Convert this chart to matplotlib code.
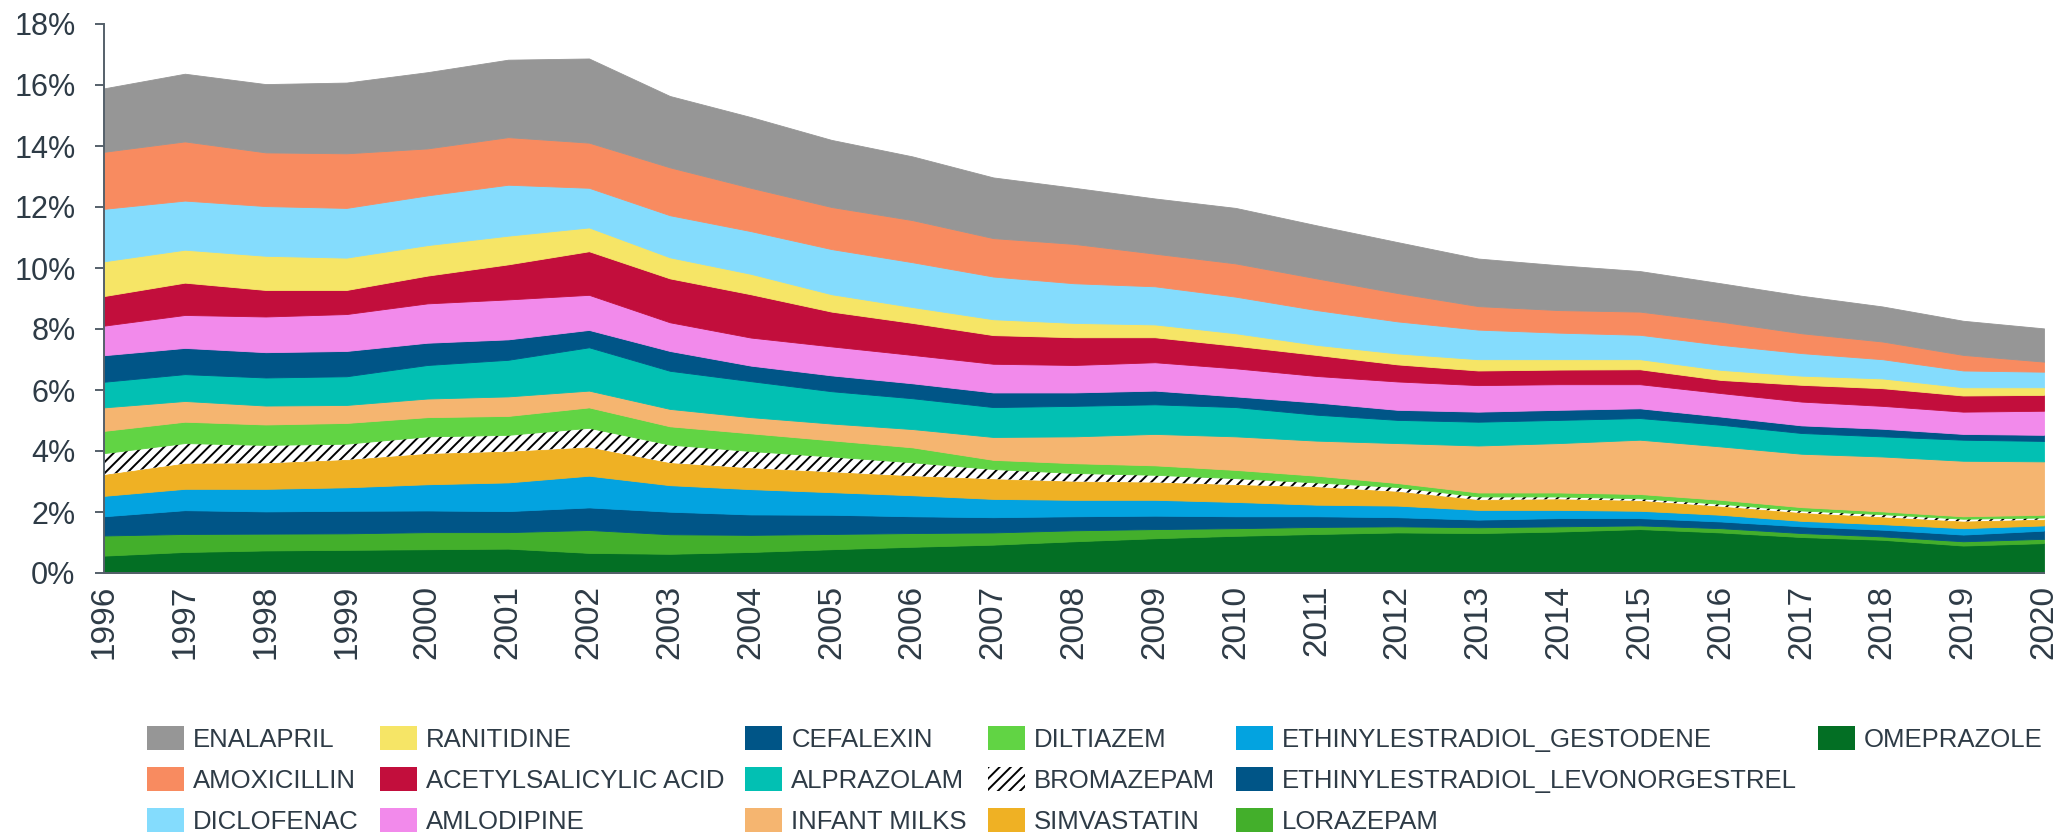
import numpy as np
import matplotlib
matplotlib.use('Agg')
import matplotlib.pyplot as plt
from matplotlib.patches import Patch

# ---------------- data (share of total, %) ----------------
years = list(range(1996, 2021))

omeprazole = [0.57, 0.69, 0.74, 0.76, 0.78, 0.80, 0.66, 0.63, 0.69, 0.78, 0.86, 0.93, 1.04,
              1.14, 1.22, 1.28, 1.33, 1.31, 1.36, 1.44, 1.33, 1.18, 1.09, 0.90, 0.98]
lorazepam = [0.66, 0.59, 0.55, 0.54, 0.56, 0.54, 0.75, 0.64, 0.56, 0.50, 0.45, 0.40, 0.36,
             0.30, 0.25, 0.23, 0.20, 0.19, 0.17, 0.12, 0.14, 0.13, 0.11, 0.14, 0.14]
ethinyl_levonorgestrel = [0.63, 0.78, 0.73, 0.74, 0.71, 0.69, 0.74, 0.74, 0.67, 0.63, 0.55, 0.50, 0.46,
                          0.44, 0.39, 0.35, 0.30, 0.25, 0.27, 0.24, 0.22, 0.22, 0.22, 0.22, 0.27]
ethinyl_gestodene = [0.67, 0.70, 0.74, 0.77, 0.86, 0.94, 1.04, 0.87, 0.83, 0.74, 0.69, 0.60, 0.54,
                     0.52, 0.47, 0.38, 0.38, 0.32, 0.27, 0.24, 0.22, 0.18, 0.18, 0.21, 0.17]
simvastatin = [0.69, 0.83, 0.84, 0.90, 1.00, 1.01, 0.93, 0.73, 0.69, 0.66, 0.63, 0.65, 0.60,
               0.57, 0.56, 0.58, 0.46, 0.33, 0.35, 0.33, 0.27, 0.26, 0.23, 0.22, 0.19]
bromazepam = [0.71, 0.67, 0.60, 0.53, 0.57, 0.55, 0.64, 0.60, 0.56, 0.51, 0.45, 0.33, 0.28,
              0.25, 0.22, 0.15, 0.15, 0.11, 0.09, 0.08, 0.09, 0.08, 0.10, 0.09, 0.07]
diltiazem = [0.73, 0.70, 0.67, 0.68, 0.63, 0.62, 0.67, 0.60, 0.58, 0.53, 0.49, 0.30, 0.32,
             0.31, 0.27, 0.22, 0.13, 0.13, 0.13, 0.14, 0.13, 0.11, 0.09, 0.08, 0.09]
infant_milks = [0.77, 0.68, 0.62, 0.59, 0.61, 0.64, 0.55, 0.57, 0.53, 0.55, 0.60, 0.75, 0.88,
                1.03, 1.10, 1.15, 1.31, 1.54, 1.62, 1.78, 1.75, 1.75, 1.80, 1.82, 1.75]
alprazolam = [0.84, 0.88, 0.92, 0.94, 1.10, 1.20, 1.42, 1.25, 1.18, 1.06, 1.01, 0.98, 1.00,
              0.97, 0.96, 0.85, 0.76, 0.78, 0.76, 0.71, 0.71, 0.68, 0.66, 0.69, 0.67]
cefalexin = [0.87, 0.86, 0.83, 0.83, 0.73, 0.67, 0.57, 0.65, 0.51, 0.52, 0.49, 0.48, 0.44,
             0.45, 0.35, 0.40, 0.33, 0.33, 0.33, 0.32, 0.27, 0.25, 0.25, 0.19, 0.20]
amlodipine = [0.97, 1.08, 1.17, 1.21, 1.29, 1.31, 1.15, 0.94, 0.92, 0.95, 0.93, 0.94, 0.90,
              0.93, 0.92, 0.87, 0.93, 0.87, 0.84, 0.79, 0.77, 0.78, 0.75, 0.73, 0.79]
acetylsalicylic_acid = [0.97, 1.06, 0.87, 0.79, 0.91, 1.15, 1.43, 1.44, 1.42, 1.14, 1.05, 0.94, 0.91,
                        0.82, 0.74, 0.69, 0.56, 0.48, 0.48, 0.49, 0.43, 0.55, 0.58, 0.53, 0.52]
ranitidine = [1.14, 1.08, 1.12, 1.06, 1.00, 0.94, 0.78, 0.69, 0.67, 0.57, 0.52, 0.52, 0.47,
              0.42, 0.41, 0.33, 0.36, 0.37, 0.34, 0.33, 0.33, 0.30, 0.32, 0.27, 0.25]
diclofenac = [1.72, 1.61, 1.63, 1.63, 1.63, 1.67, 1.30, 1.38, 1.40, 1.48, 1.47, 1.40, 1.30,
              1.25, 1.20, 1.14, 1.05, 0.97, 0.87, 0.80, 0.82, 0.74, 0.63, 0.55, 0.51]
amoxicillin = [1.87, 1.94, 1.76, 1.79, 1.54, 1.56, 1.48, 1.57, 1.42, 1.38, 1.38, 1.26, 1.29,
               1.07, 1.09, 1.04, 0.93, 0.77, 0.74, 0.76, 0.76, 0.65, 0.58, 0.51, 0.33]
enalapril = [2.08, 2.22, 2.24, 2.32, 2.50, 2.54, 2.76, 2.34, 2.32, 2.20, 2.09, 1.99, 1.84,
             1.81, 1.82, 1.74, 1.67, 1.56, 1.47, 1.33, 1.26, 1.23, 1.15, 1.12, 1.09]

# stacking order, bottom to top
series_names = ["OMEPRAZOLE", "LORAZEPAM", "ETHINYLESTRADIOL_LEVONORGESTREL",
                "ETHINYLESTRADIOL_GESTODENE", "SIMVASTATIN", "BROMAZEPAM", "DILTIAZEM",
                "INFANT MILKS", "ALPRAZOLAM", "CEFALEXIN", "AMLODIPINE",
                "ACETYLSALICYLIC ACID", "RANITIDINE", "DICLOFENAC", "AMOXICILLIN", "ENALAPRIL"]
series_values = [omeprazole, lorazepam, ethinyl_levonorgestrel, ethinyl_gestodene, simvastatin,
                 bromazepam, diltiazem, infant_milks, alprazolam, cefalexin, amlodipine,
                 acetylsalicylic_acid, ranitidine, diclofenac, amoxicillin, enalapril]
series_colors = ["#036f24", "#43af2b", "#005587", "#03a3e0", "#efb124", "#ffffff", "#61d444",
                 "#f5b570", "#02c0b3", "#005587", "#f28aeb", "#c20e3c", "#f6e566", "#84dcfd",
                 "#f88b60", "#969696"]
series_hatch = [None, None, None, None, None, "///", None, None, None, None, None, None, None,
                None, None, None]

y_ticks = list(range(0, 19, 2))
y_tick_labels = [f"{v}%" for v in y_ticks]

# ---------------- style ----------------
TXT = "#2e3b46"
SPINE = "#55606a"
plt.rcParams['font.family'] = ['Liberation Sans', 'DejaVu Sans']
plt.rcParams['hatch.linewidth'] = 1.4
plt.rcParams['hatch.color'] = 'black'

W, H = 2061, 835
fig = plt.figure(figsize=(W / 100, H / 100), dpi=100)
ax = fig.add_axes([104 / W, (H - 573) / H, (2044 - 104) / W, (573 - 24) / H])

x = np.array(years, dtype=float)
base = np.zeros(len(years))
for name, vals, col, h in zip(series_names, series_values, series_colors, series_hatch):
    top = base + np.array(vals, dtype=float)
    if h:
        ax.fill_between(x, base, top, facecolor='white', edgecolor='black', hatch=h,
                        linewidth=0)
    else:
        ax.fill_between(x, base, top, facecolor=col, edgecolor=col, linewidth=0.6)
    base = top

ax.set_xlim(years[0], years[-1])
ax.set_ylim(0, 18)
ax.set_yticks(y_ticks)
ax.set_yticklabels(y_tick_labels)
ax.set_xticks(years)
ax.set_xticklabels([str(y) for y in years], rotation=90)

for s in ['top', 'right']:
    ax.spines[s].set_visible(False)
for s in ['left', 'bottom']:
    ax.spines[s].set_color(SPINE)
    ax.spines[s].set_linewidth(1.4)

ax.tick_params(axis='y', length=6.5, width=1.4, color=SPINE, pad=14, labelsize=22,
               labelcolor=TXT)
ax.tick_params(axis='x', length=0, pad=8.6, labelsize=24, labelcolor=TXT)

# legend: reverse of stacking order, column-major in 3 rows
handles = []
labels = []
for name, col, h in zip(series_names[::-1], series_colors[::-1], series_hatch[::-1]):
    if h:
        handles.append(Patch(facecolor='white', edgecolor='black', hatch=h, linewidth=0))
    else:
        handles.append(Patch(facecolor=col, edgecolor=col, linewidth=0))
    labels.append(name)
# two invisible placeholders so the last column holds only one entry
for _ in range(2):
    handles.append(Patch(facecolor='none', edgecolor='none', linewidth=0))
    labels.append('')

fig.legend(handles, labels, ncol=6, loc='upper left',
           bbox_to_anchor=(147 / W, 1 - 726 / H), frameon=False, fontsize=18.5,
           handlelength=1.44, handleheight=1.05, handletextpad=0.35, columnspacing=0.82,
           labelspacing=0.6, borderpad=0, borderaxespad=0, labelcolor=TXT)

fig.savefig('out.png', dpi=100)
